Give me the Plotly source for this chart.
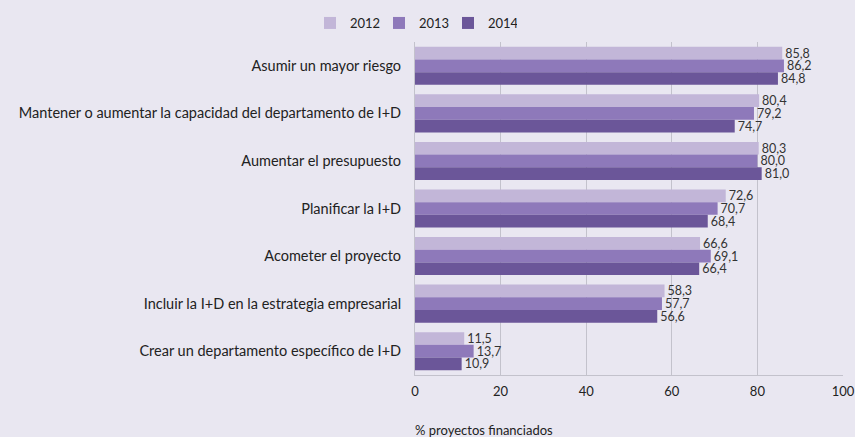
import plotly.graph_objects as go

categories = [
    "Asumir un mayor riesgo",
    "Mantener o aumentar la capacidad del departamento de I+D",
    "Aumentar el presupuesto",
    "Planificar la I+D",
    "Acometer el proyecto",
    "Incluir la I+D en la estrategia empresarial",
    "Crear un departamento específico de I+D",
]
years = ["2012", "2013", "2014"]
v2012 = [85.8, 80.4, 80.3, 72.6, 66.6, 58.3, 11.5]
v2013 = [86.2, 79.2, 80.0, 70.7, 69.1, 57.7, 13.7]
v2014 = [84.8, 74.7, 81.0, 68.4, 66.4, 56.6, 10.9]
x_ticks = [0, 20, 40, 60, 80, 100]

colors = ["#c2b6d8", "#8e79ba", "#6b5699"]
bg = "#e9e7f1"
font_family = "Lato, 'Open Sans', sans-serif"

fig = go.Figure()
for yr, vals, col in zip(years, [v2012, v2013, v2014], colors):
    fig.add_trace(go.Bar(
        y=categories, x=vals, name=yr, orientation="h",
        marker=dict(color=col, line=dict(width=0)),
        text=[f"{v:.1f}".replace(".", ",") for v in vals],
        textposition="outside", cliponaxis=False, constraintext="none",
        textfont=dict(size=12.5, color="#333333", family=font_family),
    ))

fig.update_layout(
    width=855, height=437,
    paper_bgcolor=bg, plot_bgcolor=bg,
    margin=dict(l=415, r=12, t=42, b=62, autoexpand=False),
    barmode="group", bargap=0.2, bargroupgap=0,
    font=dict(family=font_family, size=13, color="#222222"),
    legend=dict(orientation="h", x=310 / 855, xanchor="left", xref="container",
                y=1 - 23 / 437, yanchor="middle", yref="container",
                font=dict(size=13, color="#222222"), traceorder="normal",
                itemwidth=30, entrywidth=24, entrywidthmode="pixels",
                bgcolor="rgba(0,0,0,0)"),
    showlegend=True,
)
fig.update_xaxes(range=[0, 100], tickvals=x_ticks, showgrid=True, automargin=False,
                 gridcolor="#c3c2cc", gridwidth=1, zeroline=False,
                 showline=True, linecolor="#c3c2cc", linewidth=1,
                 ticks="", tickfont=dict(size=13, color="#222222"), ticklabelstandoff=4)
fig.update_yaxes(autorange="reversed", showline=True, linecolor="#c3c2cc", automargin=False,
                 linewidth=1, ticks="", ticklabelstandoff=10,
                 tickfont=dict(size=14.5, color="#222222"))
fig.add_annotation(text="% proyectos financiados", xref="paper", yref="paper",
                   x=-0.005, y=-0.135, xanchor="left", yanchor="top", showarrow=False,
                   font=dict(size=13, color="#222222"))

fig.write_html("out.html", config={"displayModeBar": False},
               post_script="document.body.style.margin='0';document.body.style.overflow='hidden';")
